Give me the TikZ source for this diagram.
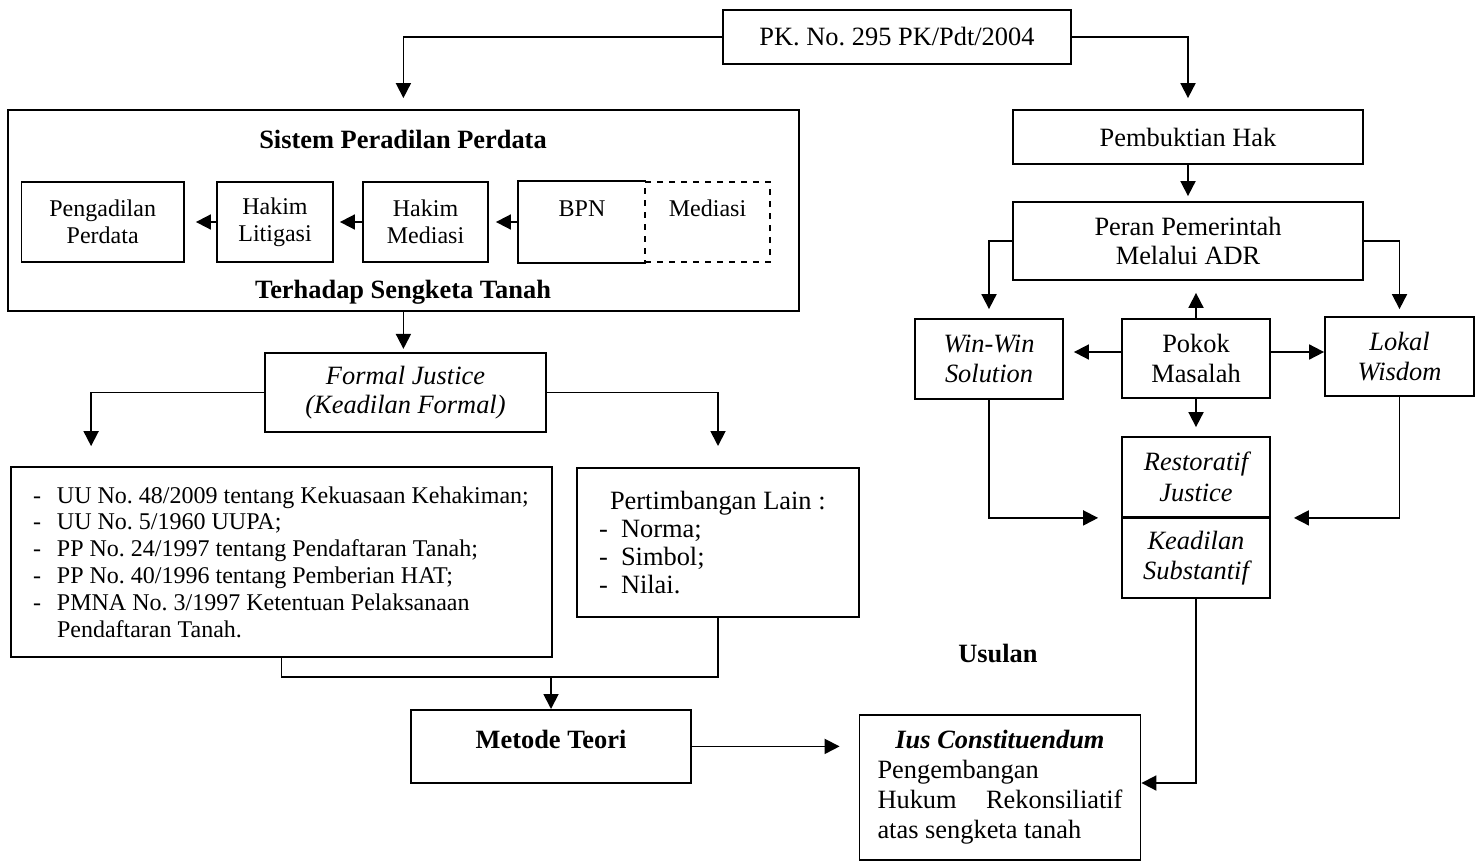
\documentclass[tikz,border=0pt]{standalone}
\usepackage{fontspec}
\setmainfont{Liberation Serif}
\usetikzlibrary{arrows.meta}
\frenchspacing
\newcommand{\dashitem}[1][12pt]{\makebox[#1][l]{-}}
\begin{document}
\begin{tikzpicture}[x=0.5pt, y=-0.5pt,
  box/.style={draw, line width=0.9pt, inner sep=0pt, align=center,
    font=\fontsize{13.2}{14.5}\selectfont},
  small/.style={font=\fontsize{12}{13.6}\selectfont},
  txt/.style={inner sep=0pt, align=center, font=\fontsize{13.2}{14.5}\selectfont\bfseries},
  arr/.style={line width=0.9pt, -{Triangle[length=7.5pt,width=7.5pt]}},
  line/.style={line width=0.9pt}]
\useasboundingbox (0,0) rectangle (1481,862);

\node[box, minimum width=174pt, minimum height=27pt] (pk) at (897,37) {PK. No. 295 PK/Pdt/2004};

% sistem peradilan
\node[box, minimum width=395.6pt, minimum height=100.5pt] (sistem) at (403.4,210.5) {};
\node[txt] (sistemtop) at (403,139) {Sistem Peradilan Perdata};
\node[txt] (sistembot) at (403,292) {Terhadap Sengketa Tanah};
\node[box, small, minimum width=81.3pt, minimum height=40pt] (pengadilan) at (102.7,222) {Pengadilan\\Perdata};
\node[box, small, minimum width=58pt, minimum height=40pt] (litigasi) at (275,222) {Hakim\\Litigasi};
\node[box, small, minimum width=62.5pt, minimum height=40pt] (hmediasi) at (425.5,222) {Hakim\\Mediasi};
\node[box, small, draw=none, minimum width=63pt, minimum height=40pt] (bpn) at (582,222) {BPN\\\mbox{}};
\draw[line] (bpn.north east) -- (bpn.north west) -- (bpn.south west) -- (bpn.south east);
\node[box, small, dashed, minimum width=62.5pt, minimum height=40pt] (mediasi) at (707.5,222) {Mediasi\\\mbox{}};
\draw[arr, shorten >=3.5pt] (bpn.west) -- (hmediasi.east);
\draw[arr, shorten >=3pt] (hmediasi.west) -- (litigasi.east);
\draw[arr, shorten >=5.5pt] (litigasi.west) -- (pengadilan.east);

\node[box, minimum width=140.8pt, minimum height=39.6pt, font=\fontsize{13.2}{14.5}\selectfont\itshape] (formal) at (405.5,392.4) {Formal Justice\\(Keadilan Formal)};
\node[box, minimum width=270.5pt, minimum height=95pt, text width=248.5pt, inner xsep=11pt,
  align=flush left, font=\fontsize{12}{13.4}\selectfont] (law) at (281.5,562) {%
\mbox{\dashitem UU No. 48/2009 tentang Kekuasaan Kehakiman;}\\
\dashitem UU No. 5/1960 UUPA;\\
\dashitem PP No. 24/1997 tentang Pendaftaran Tanah;\\
\dashitem PP No. 40/1996 tentang Pemberian HAT;\\
\dashitem PMNA No. 3/1997 Ketentuan Pelaksanaan\\
\hspace*{12pt}Pendaftaran Tanah.};
\node[box, minimum width=141pt, minimum height=74.5pt, text width=119pt, inner xsep=11pt,
  align=flush left, font=\fontsize{13.2}{14}\selectfont] (pert) at (718,542.4) {%
\hspace*{5.5pt}Pertimbangan Lain :\\
\dashitem[11pt]Norma;\\
\dashitem[11pt]Simbol;\\
\dashitem[11pt]Nilai.};
\node[box, minimum width=140pt, minimum height=36.5pt, text depth=7pt, font=\fontsize{13.2}{14.5}\selectfont\bfseries] (metode) at (551,746.4) {Metode Teori};

% pembuktian hak
\node[box, minimum width=175pt, minimum height=27pt] (bukti) at (1188,137) {Pembuktian Hak};
\node[box, minimum width=175pt, minimum height=39pt] (peran) at (1188,241) {Peran Pemerintah\\Melalui ADR};
\node[box, minimum width=74pt, minimum height=40pt, font=\fontsize{13.2}{15}\selectfont\itshape] (winwin) at (989,359) {Win-Win\\Solution};
\node[box, minimum width=74pt, minimum height=39.5pt, font=\fontsize{13.2}{15}\selectfont] (pokok) at (1196,358.5) {Pokok\\Masalah};
\node[box, minimum width=74.5pt, minimum height=39.5pt, font=\fontsize{13.2}{15}\selectfont\itshape] (lokal) at (1399.5,356.5) {Lokal\\Wisdom};
\node[box, minimum width=74pt, minimum height=40pt, font=\fontsize{13.2}{15.5}\selectfont\itshape] (resto) at (1196,477) {Restoratif\\Justice};
\node[box, minimum width=74pt, minimum height=40pt, font=\fontsize{13.2}{15}\selectfont\itshape] (keadilan) at (1196,558) {Keadilan\\Substantif};
\node[txt] (usulan) at (998,653) {Usulan};
\node[box, minimum width=140.5pt, minimum height=72.5pt, text width=122.5pt, inner xsep=9pt,
  align=flush left, font=\fontsize{13.2}{15}\selectfont] (ius) at (1000,787.5) {%
\hspace*{\fill}\textbf{\textit{Ius Constituendum}}\hfill\null\\
Pengembangan\\
Hukum\hfill Rekonsiliatif\\
atas sengketa tanah};

\draw[arr, shorten >=5.5pt] (pk.west) -| (sistem.north);
\draw[arr, shorten >=5.5pt] (pk.east) -| (bukti.north);
\draw[arr, shorten >=2.5pt] (bukti) -- (peran);
\draw[arr, shorten >=4.5pt] (peran.west) -| (winwin.north);
\draw[arr, shorten >=3.5pt] (peran.east) -| (lokal.north);
\draw[arr, shorten >=6pt] (pokok.north) -- (pokok.north |- peran.south);
\draw[arr, shorten >=5pt] ([yshift=3.25pt]pokok.west) -- ([yshift=3.25pt]winwin.east |- pokok.west);
\draw[arr] ([yshift=3.25pt]pokok.east) -- ([yshift=3.25pt]lokal.west |- pokok.east);
\draw[arr, shorten >=4.5pt] (pokok) -- (resto);
\draw[arr, shorten >=11.5pt] (winwin.south) |- (resto.south west);
\draw[arr, shorten >=11.5pt] (lokal.south) |- (resto.south east);
\draw[arr] (keadilan.south) |- ([yshift=2.25pt]ius.east);

\draw[arr, shorten >=1.5pt] (sistem.south) -- (sistem.south |- formal.north);
\draw[arr, shorten >=10pt] (formal.west) -| ([xshift=40.5pt]law.north west);
\draw[arr, shorten >=10.5pt] (formal.east) -| (pert.north);
\coordinate (merge) at (551,677);
\draw[line] (law.south) |- (merge) -| (pert.south);
\draw[arr] (merge) -- (metode.north);
\draw[arr, shorten >=9.5pt] (metode.east) -- (metode.east -| ius.west);
\end{tikzpicture}
\end{document}
